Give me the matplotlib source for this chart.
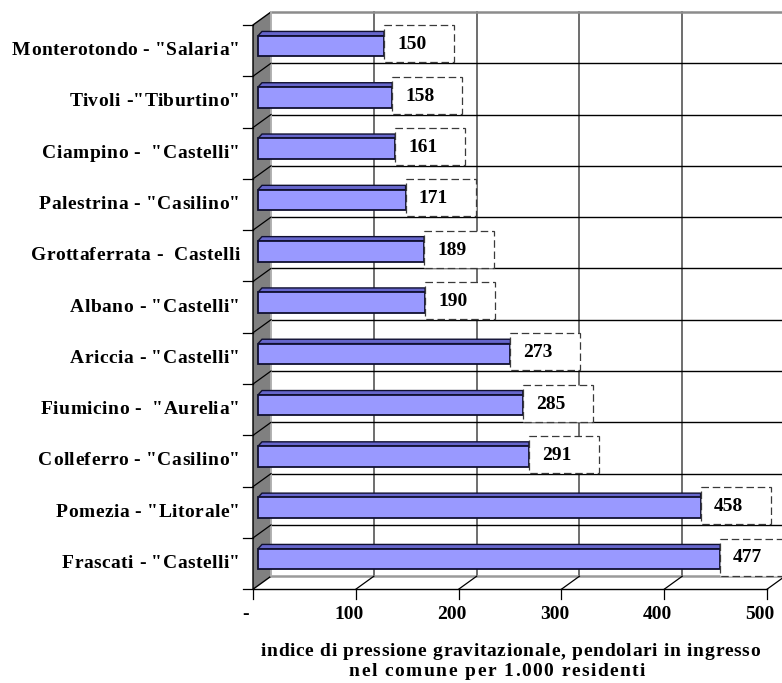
import matplotlib
matplotlib.use("Agg")
import matplotlib.pyplot as plt
from matplotlib.patches import Polygon, Rectangle
from matplotlib.font_manager import FontProperties
from matplotlib.transforms import IdentityTransform

# ---- data -------------------------------------------------------------
categories = [
    'Monterotondo - "Salaria"',
    'Tivoli -"Tiburtino"',
    'Ciampino -  "Castelli"',
    'Palestrina - "Casilino"',
    'Grottaferrata -  Castelli',
    'Albano - "Castelli"',
    'Ariccia - "Castelli"',
    'Fiumicino -  "Aurelia"',
    'Colleferro - "Casilino"',
    'Pomezia - "Litorale"',
    'Frascati - "Castelli"',
]
values = [150, 158, 161, 171, 189, 190, 273, 285, 291, 458, 477]
tick_values = [0, 100, 200, 300, 400, 500]
tick_labels = ["-", "100", "200", "300", "400", "500"]
axis_title = ["indice di pressione gravitazionale, pendolari in ingresso",
              "nel comune per 1.000 residenti"]

# ---- figure / pseudo-3D geometry ---------------------------------------
W, H = 782, 683
fig = plt.figure(figsize=(W / 100, H / 100), dpi=100)
ax = fig.add_axes([0, 0, 1, 1])
ax.axis("off")

PX_X = 1.028        # pixels per value unit
ZERO_PX = 229.8     # pixel column of value 0 in the bar plane
ROW_PX = 51.3       # pixels per category row
ROW0_PX = 44.0      # pixel row of the first bar centre
ax.set_xlim(-ZERO_PX / PX_X, (W - ZERO_PX) / PX_X)
ax.set_ylim((H - ROW0_PX) / ROW_PX, -ROW0_PX / ROW_PX)

def px_x(p):
    return p / PX_X

def px_y(p):
    return p / ROW_PX

# front and back planes relative to the bar plane
FDX, FDY = px_x(23.2), px_y(6.6)
BDX, BDY = px_x(41.2), px_y(-6.4)

n = len(categories)
top_k, bot_k = -0.5, n - 0.5
vmax = tick_values[-1]
right_edge = ax.get_xlim()[1]

def front(v, k):
    return (v + FDX, k + FDY)

def back(v, k):
    return (v + BDX, k + BDY)

# back wall
ax.add_patch(Polygon([back(0, top_k), back(right_edge, top_k),
                      back(right_edge, bot_k), back(0, bot_k)],
                     closed=True, facecolor="white", edgecolor="none", zorder=0))
for v in tick_values[1:]:
    (x0, y0), (x1, y1) = back(v, top_k), back(v, bot_k)
    ax.plot([x0, x1], [y0, y1], color="#555555", lw=1.2, zorder=1)
for k in range(1, n):
    (x0, y0), (x1, y1) = back(0, k - 0.5), back(right_edge, k - 0.5)
    ax.plot([x0, x1], [y0, y1], color="black", lw=1.0, zorder=1)
(x0, y0), (x1, y1) = back(0, top_k), back(right_edge, top_k)
ax.plot([x0, x1], [y0, y1], color="#8c8c8c", lw=1.8, zorder=1)

# floor
(x0, y0), (x1, y1) = back(0, bot_k), back(right_edge, bot_k)
ax.plot([x0, x1], [y0, y1], color="#9a9a9a", lw=1.8, zorder=1)
for v in tick_values[1:]:
    (x0, y0), (x1, y1) = front(v, bot_k), back(v, bot_k)
    ax.plot([x0, x1], [y0, y1], color="black", lw=0.9, zorder=1)
(x0, y0), (x1, y1) = front(0, bot_k), front(vmax, bot_k)
ax.plot([x0, x1], [y0, y1], color="black", lw=1.0, zorder=2)

# left side wall
ax.add_patch(Polygon([front(0, top_k), back(0, top_k), back(0, bot_k), front(0, bot_k)],
                     closed=True, facecolor="#808080", edgecolor="black", lw=1.0, zorder=2))
(x0, y0), (x1, y1) = back(0, top_k), back(0, bot_k)
ax.plot([x0, x0], [y0, y1], color="#c8c8c8", lw=1.2, zorder=2)
for k in range(1, n):
    (x0, y0), (x1, y1) = front(0, k - 0.5), back(0, k - 0.5)
    ax.plot([x0, x1], [y0, y1], color="black", lw=0.9, zorder=2)

# category ticks and value ticks on the front plane
for k in range(n + 1):
    x, y = front(0, k - 0.5)
    ax.plot([x - px_x(10), x], [y, y], color="black", lw=0.9, zorder=2)
for v in tick_values:
    x, y = front(v, bot_k)
    ax.plot([x, x], [y, y + px_y(10)], color="black", lw=0.9, zorder=2)

# bars with a shallow top face
bar_start = FDX + px_x(5)
bevel = px_x(4)
face_top, face_bot, lid_top = -0.16, 0.24, -0.245
for i, v in enumerate(values):
    ax.add_patch(Polygon([(bar_start, i + face_top), (bar_start + bevel, i + lid_top),
                          (v, i + lid_top), (v, i + face_top)],
                         closed=True, facecolor="#6666CC", edgecolor="#101030",
                         lw=1.0, zorder=3, joinstyle="miter"))
    ax.add_patch(Rectangle((bar_start, i + face_top), v - bar_start, face_bot - face_top,
                           facecolor="#9999FF", edgecolor="#101030", lw=1.3, zorder=3))

# value labels in dashed white boxes
serif = ["Liberation Serif", "DejaVu Serif"]
box_w = px_x(70)
box_h = px_y(37)
for i, v in enumerate(values):
    ax.add_patch(Rectangle((v, i - box_h / 2), box_w, box_h, facecolor="white",
                           edgecolor="#3a3a3a", lw=0.9, linestyle=(0, (6, 3)),
                           zorder=4))
    ax.text(v + px_x(13), i + px_y(1), f"{v}", ha="left", va="center",
            fontsize=14, fontweight="bold", family=serif, zorder=5)

# value axis labels
for v, lab in zip(tick_values, tick_labels):
    x, y = front(v, bot_k)
    ax.text(x - px_x(7), y + px_y(25), lab, ha="center", va="center",
            fontsize=14, fontweight="bold", family=serif, zorder=5)

# letter-spaced text, laid out glyph by glyph in pixel space
renderer = fig.canvas.get_renderer()
label_font = FontProperties(family=serif, weight="bold", size=14)

def text_width(s, prop):
    w, _, _ = renderer.get_text_width_height_descent(s, prop, ismath=False)
    return w

def tracked_text(x, y, s, prop, tracking, ha="left"):
    bar_w = text_width("|", prop)
    offsets = [0.0]
    for j in range(1, len(s)):
        offsets.append(text_width(s[:j] + "|", prop) - bar_w + j * tracking)
    total = offsets[-1] + text_width(s[-1], prop)
    if ha == "right":
        x0 = x - total
    elif ha == "center":
        x0 = x - total / 2
    else:
        x0 = x
    for ch, off in zip(s, offsets):
        if ch != " ":
            fig.text(x0 + off, y, ch, fontproperties=prop, ha="left",
                     va="center", transform=IdentityTransform(), zorder=5)

# category labels
for i, name in enumerate(categories):
    xd, yd = ax.transData.transform(front(0, i))
    tracked_text(xd - 13, yd, name, label_font, 0.45, ha="right")

# axis title
tracked_text(510, H - 652, axis_title[0], label_font, 0.7, ha="center")
tracked_text(497, H - 672, axis_title[1], label_font, 1.5, ha="center")

fig.savefig("out.png", dpi=100)
